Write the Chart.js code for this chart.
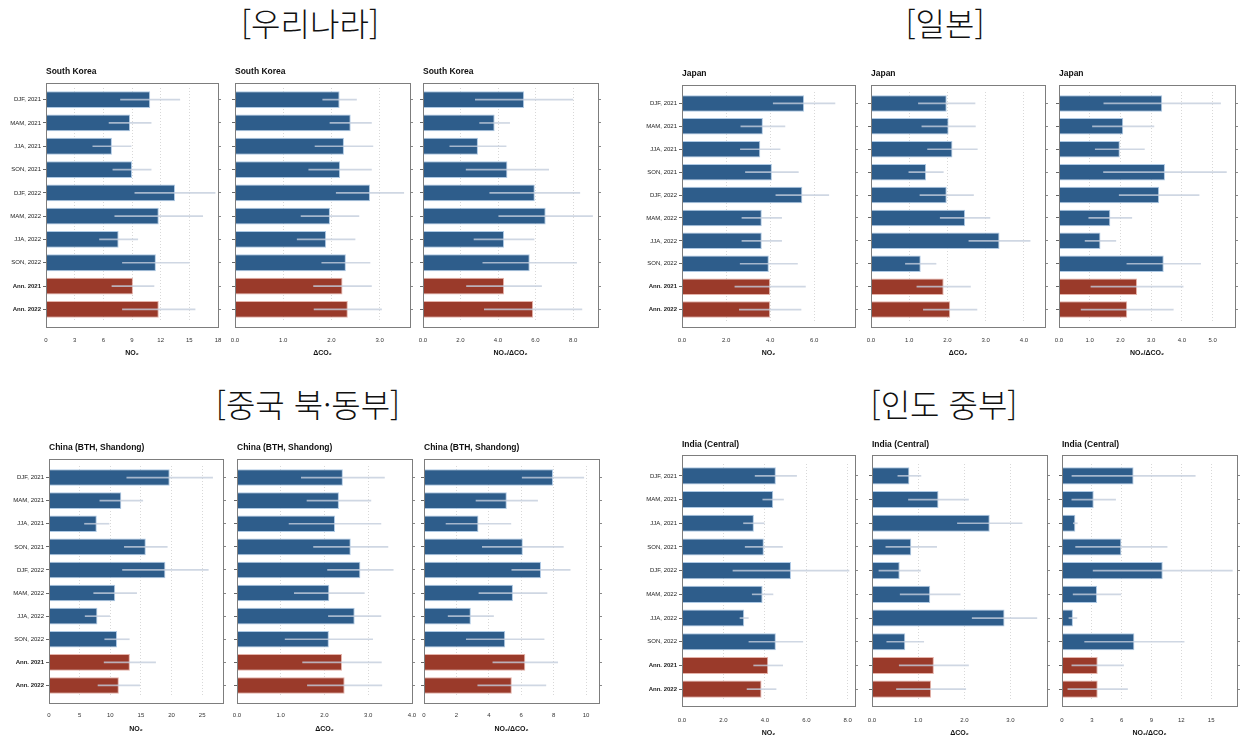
<!DOCTYPE html>
<html lang="ko">
<head>
<meta charset="UTF-8">
<title>NO2 / ΔCO2</title>
<script src="https://cdn.jsdelivr.net/npm/chart.js"></script>
<style>
  body { margin: 0; background: #fff; width: 1241px; height: 741px; position: relative; overflow: hidden; }
  .head { position: absolute; font-family: 'Noto Sans CJK KR', sans-serif; font-size: 32px; font-weight: 300; color: #111;
          transform: translate(-50%, -50%); white-space: nowrap; }
  canvas { position: absolute; }
</style>
</head>
<body>
<div class="head" style="left:310px;top:22px">[우리나라]</div>
<div class="head" style="left:945px;top:22px">[일본]</div>
<div class="head" style="left:308px;top:403px">[중국 북·동부]</div>
<div class="head" style="left:944px;top:403px">[인도 중부]</div>
<script>
// categories (same for every panel)
const categories = ['DJF, 2021', 'MAM, 2021', 'JJA, 2021', 'SON, 2021', 'DJF, 2022',
                    'MAM, 2022', 'JJA, 2022', 'SON, 2022', 'Ann. 2021', 'Ann. 2022'];
const axisTitles = ['NO₂', 'ΔCO₂', 'NO₂/ΔCO₂'];

// South Korea
const krNO2 = [10.9, 8.8, 6.9, 9.0, 13.5, 11.8, 7.6, 11.5, 9.1, 11.8];
const krNO2Err = [3.1, 2.2, 2.0, 2.0, 4.2, 4.6, 2.0, 3.5, 2.2, 3.8];
const krCO2 = [2.17, 2.40, 2.26, 2.18, 2.80, 1.97, 1.89, 2.30, 2.23, 2.34];
const krCO2Err = [0.35, 0.43, 0.6, 0.65, 0.7, 0.6, 0.6, 0.5, 0.6, 0.7];
const krRatio = [5.39, 3.82, 2.93, 4.5, 5.96, 6.54, 4.32, 5.69, 4.32, 5.87];
const krRatioErr = [2.6, 0.8, 1.5, 2.2, 2.4, 2.5, 1.6, 2.5, 2.0, 2.6];

// Japan
const jpNO2 = [5.54, 3.67, 3.55, 4.08, 5.46, 3.62, 3.62, 3.94, 4.0, 4.0];
const jpNO2Err = [1.4, 1.0, 0.9, 1.2, 1.2, 0.9, 0.9, 1.3, 1.6, 1.4];
const jpCO2 = [1.98, 2.03, 2.13, 1.44, 1.98, 2.46, 3.36, 1.30, 1.90, 2.07];
const jpCO2Err = [0.74, 0.7, 0.65, 0.45, 0.7, 0.65, 0.8, 0.4, 0.7, 0.7];
const jpRatio = [3.36, 2.09, 1.98, 3.45, 3.26, 1.67, 1.35, 3.41, 2.54, 2.22];
const jpRatioErr = [1.9, 1.0, 0.8, 2.0, 1.3, 0.7, 0.5, 1.2, 1.5, 1.5];

// China (BTH, Shandong)
const cnNO2 = [19.7, 11.8, 7.8, 15.8, 19.0, 10.8, 7.9, 11.1, 13.2, 11.4];
const cnNO2Err = [7, 3.5, 2, 3.5, 7, 3.5, 2, 2, 4.2, 3.4];
const cnCO2 = [2.42, 2.33, 2.24, 2.60, 2.82, 2.11, 2.69, 2.10, 2.40, 2.46];
const cnCO2Err = [0.95, 0.73, 1.05, 0.85, 0.75, 0.8, 0.6, 1.0, 0.9, 0.85];
const cnRatio = [7.96, 5.11, 3.36, 6.1, 7.22, 5.49, 2.89, 5.01, 6.25, 5.42];
const cnRatioErr = [1.9, 1.9, 2.0, 2.5, 1.8, 2.1, 1.4, 2.4, 2.0, 2.1];

// India (Central)
const inNO2 = [4.53, 4.40, 3.47, 3.95, 5.26, 3.89, 3.0, 4.53, 4.16, 3.84];
const inNO2Err = [1, 0.5, 0.5, 0.9, 2.8, 0.5, 0.2, 1.3, 0.7, 0.7];
const inCO2 = [0.81, 1.44, 2.55, 0.85, 0.60, 1.26, 2.87, 0.72, 1.34, 1.28];
const inCO2Err = [0.25, 0.65, 0.7, 0.55, 0.45, 0.65, 0.7, 0.4, 0.75, 0.75];
const inRatio = [7.2, 3.19, 1.34, 5.97, 10.13, 3.52, 1.1, 7.28, 3.59, 3.59];
const inRatioErr = [6.2, 2.2, 0.2, 4.6, 7, 2.4, 0.4, 5, 2.6, 3];

// axis ranges: [max, step, decimals]
const krAxes = [[18, 3, 0], [3.63, 1, 1], [9.33, 2, 1]];
const jpAxes = [[7.85, 2, 1], [4.55, 1, 1], [5.73, 1, 1]];
const cnAxes = [[28.4, 5, 0], [4.0, 1, 1], [10.8, 2, 0]];
const inAxes = [[8.35, 2, 1], [3.79, 1, 1], [17.6, 3, 0]];

const BLUE = '#2e5d8b';
const RED = '#9a3a2a';
const FONT = "'Liberation Sans', Arial, sans-serif";

const groups = [
  { title: 'South Korea', frameTop: 83, frameBot: 327, barTop: 88, barBot: 321, titleY: 72, tickY: 340, axisTitleY: 353,
    xs: [[46, 218], [235, 410], [423, 598]], values: [krNO2, krCO2, krRatio], errors: [krNO2Err, krCO2Err, krRatioErr], axes: krAxes },
  { title: 'Japan', frameTop: 85, frameBot: 327, barTop: 92, barBot: 321, titleY: 74, tickY: 340, axisTitleY: 353,
    xs: [[682, 855], [871, 1045], [1059, 1235]], values: [jpNO2, jpCO2, jpRatio], errors: [jpNO2Err, jpCO2Err, jpRatioErr], axes: jpAxes },
  { title: 'China (BTH, Shandong)', frameTop: 459, frameBot: 703, barTop: 466, barBot: 697, titleY: 448, tickY: 715, axisTitleY: 729,
    xs: [[49, 223], [237, 412], [424, 599]], values: [cnNO2, cnCO2, cnRatio], errors: [cnNO2Err, cnCO2Err, cnRatioErr], axes: cnAxes },
  { title: 'India (Central)', frameTop: 455, frameBot: 706, barTop: 464, barBot: 701, titleY: 445, tickY: 720, axisTitleY: 733,
    xs: [[682, 855], [872, 1047], [1062, 1237]], values: [inNO2, inCO2, inRatio], errors: [inNO2Err, inCO2Err, inRatioErr], axes: inAxes }
];

// box around the plot, a bit taller than the bar area
const framePlugin = {
  id: 'frame',
  afterDraw(chart, args, opts) {
    const a = chart.chartArea, ctx = chart.ctx;
    ctx.save();
    ctx.strokeStyle = '#7d7d7d';
    ctx.lineWidth = 1;
    ctx.strokeRect(a.left + 0.5, a.top - opts.top + 0.5, a.right - a.left, a.bottom - a.top + opts.top + opts.bottom);
    ctx.restore();
  }
};

function makePanel(g, j) {
  const [fl, fr] = g.xs[j];
  const yW = j === 0 ? 46 : 14;
  const rightW = 10;
  const canvasTop = g.titleY - 10;
  const canvasBot = g.axisTitleY + 6;
  const cv = document.createElement('canvas');
  cv.width = yW + (fr - fl) + rightW;
  cv.height = canvasBot - canvasTop;
  cv.style.left = (fl - yW) + 'px';
  cv.style.top = canvasTop + 'px';
  document.body.appendChild(cv);

  const topH = g.barTop - canvasTop;
  const bottomH = canvasBot - g.barBot;
  const titleSize = 8.5;
  const padTop = g.titleY - canvasTop - titleSize / 2;
  const [max, step, dec] = g.axes[j];
  const vals = g.values[j], errs = g.errors[j];

  new Chart(cv, {
    type: 'bar',
    data: {
      labels: categories,
      datasets: [
        {
          data: vals.map((v, i) => [Math.max(0, v - errs[i]), v + errs[i]]),
          backgroundColor: 'rgba(195,205,220,0.8)',
          barThickness: 1,
          grouped: false,
          order: 0
        },
        {
          data: vals,
          backgroundColor: categories.map((c, i) => i >= 8 ? RED : BLUE),
          borderColor: categories.map((c, i) => i >= 8 ? 'rgba(225,170,160,0.9)' : 'rgba(165,195,225,0.9)'),
          borderWidth: 1,
          barPercentage: 0.72,
          categoryPercentage: 1,
          grouped: false,
          order: 1
        }
      ]
    },
    options: {
      indexAxis: 'y',
      responsive: false,
      animation: false,
      layout: { padding: 0 },
      plugins: {
        legend: { display: false },
        tooltip: { enabled: false },
        title: {
          display: true, text: g.title, align: 'start', fullSize: false, color: '#111',
          font: { family: FONT, size: titleSize, weight: 'bold', lineHeight: 1 },
          padding: { top: padTop, bottom: topH - padTop - titleSize }
        },
        frame: { top: g.barTop - g.frameTop, bottom: g.frameBot - g.barBot }
      },
      scales: {
        x: {
          type: 'linear', min: 0, max: max, bounds: 'data',
          ticks: {
            stepSize: step, includeBounds: false, color: '#333',
            font: { family: FONT, size: 6 },
            padding: 1,
            callback: v => Number(v).toFixed(dec)
          },
          // invisible tick marks push the labels down below the frame
          grid: { color: 'rgba(190,190,190,0.6)', drawTicks: true, tickLength: g.tickY - g.barBot - 4.6, tickColor: 'rgba(0,0,0,0)' },
          border: { display: false, dash: [1, 2] },
          title: {
            display: true, text: axisTitles[j], color: '#111',
            font: { family: FONT, size: 7, weight: 'bold' },
            padding: { top: 0, bottom: 1.8 }
          },
          afterFit: s => { s.height = bottomH; }
        },
        y: {
          ticks: {
            display: j === 0, color: '#222', padding: 2,
            font: c => ({ family: FONT, size: 6, weight: c.index >= 8 ? 'bold' : 'normal' })
          },
          grid: { display: true, drawOnChartArea: false, offset: false, tickLength: 3, color: '#666' },
          border: { display: false },
          afterFit: s => { s.width = yW; }
        },
        // mirrored tick marks on the right side of the frame
        y2: {
          type: 'category', position: 'right', offset: true,
          ticks: { display: false },
          grid: { display: true, drawOnChartArea: false, offset: false, tickLength: 3, color: '#888' },
          border: { display: false },
          afterFit: s => { s.width = rightW; }
        }
      }
    },
    plugins: [framePlugin]
  });
}

groups.forEach(g => { for (let j = 0; j < 3; j++) makePanel(g, j); });
</script>
</body>
</html>
